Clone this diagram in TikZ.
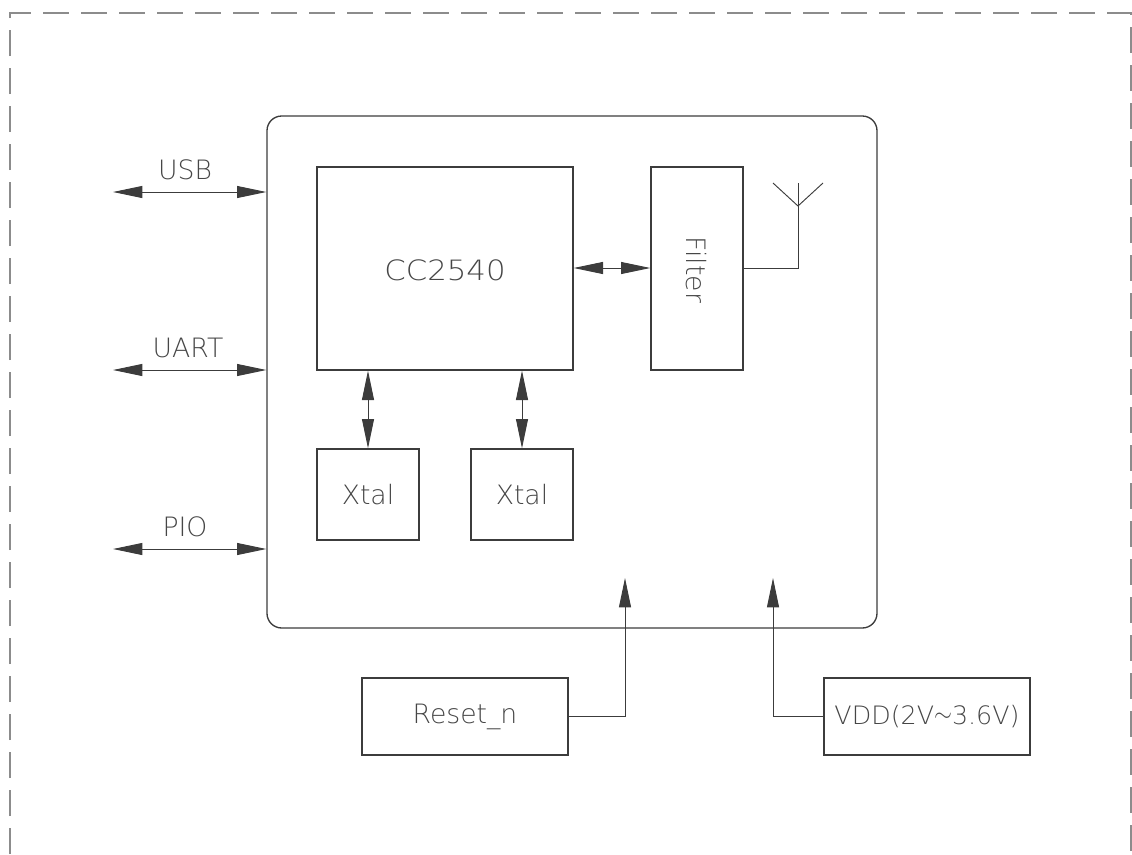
\documentclass[tikz,border=0pt]{standalone}
\usepackage{fontspec}
\setmainfont{DejaVu Sans ExtraLight}
\usetikzlibrary{arrows.meta}
\definecolor{linec}{RGB}{60,60,60}
\definecolor{textc}{RGB}{70,70,70}
\definecolor{framec}{RGB}{140,140,140}
\tikzset{
  txt/.style={font=\fontsize{20}{22}\selectfont, text=textc},
  blk/.style={draw=linec, line width=1pt, inner sep=0pt, txt},
  conn/.style={draw=linec, line width=0.7pt},
  bi/.style={conn, {Triangle[length=22pt,width=9pt]}-{Triangle[length=22pt,width=9pt]}},
  uni/.style={conn, -{Triangle[length=22pt,width=9pt]}},
  lbl/.style={txt, inner sep=0pt},
}
\begin{document}
\begin{tikzpicture}[x=0.75pt,y=-0.75pt]
\useasboundingbox (0,0) rectangle (1132,854);
% dashed frame
\draw[framec, line width=1.1pt, dash pattern=on 19.5pt off 9pt] (10,854) -- (10,13) -- (1131,13) -- (1131,854);
% outer module
\node[blk, rounded corners=11pt, minimum width=457.5pt, minimum height=384pt] (mod) at (572,372) {};
% CC2540
\node[blk, minimum width=192pt, minimum height=152.25pt] (cc) at (445,268.5) {};
\node[lbl, font=\fontsize{21}{23}\selectfont] (ccT) at (445,270) {\scalebox{1.1}[1]{CC2540}};
% Filter
\node[blk, minimum width=69pt, minimum height=152.25pt] (flt) at (697,268.5) {};
\node[lbl, rotate=-90] (fltT) at (696,270) {Filter};
% Xtals
\node[blk, minimum width=76.5pt, minimum height=68.25pt] (x1) at (368,494.5) {Xtal};
\node[blk, minimum width=76.5pt, minimum height=68.25pt] (x2) at (522,494.5) {Xtal};
% Reset / VDD
\node[blk, minimum width=154.5pt, minimum height=57.75pt] (rst) at (465,716.5) {Reset\_n};
\node[blk, minimum width=154.5pt, minimum height=57.75pt, font=\fontsize{19}{21}\selectfont] (vdd) at (927,716.5) {VDD(2V\raisebox{0.12em}{$\sim$}3.6V)};
% antenna
\coordinate (antb) at (798,268);
\coordinate (antt) at (798,206);
\coordinate (antl) at (773,183);
\coordinate (antr) at (823,183);
\coordinate (antv) at (798,183);
\draw[conn] (flt.east |- antb) -- (antb) -- (antv);
\draw[conn] (antl) -- (antt) -- (antr);
% CC <-> filter
\draw[bi] (cc.east |- 0,268) -- (flt.west |- 0,268);
% CC <-> xtal
\draw[bi] (cc.south -| x1.north) -- (x1.north);
\draw[bi] (cc.south -| x2.north) -- (x2.north);
% external interfaces
\coordinate (usbL) at (113,192);
\coordinate (uartL) at (113,370);
\coordinate (pioL) at (113,549);
\draw[bi] (usbL) -- (mod.west |- usbL);
\draw[bi] (uartL) -- (mod.west |- uartL);
\draw[bi] (pioL) -- (mod.west |- pioL);
\node[lbl] (usbT) at (185,170) {USB};
\node[lbl] (uartT) at (188,348) {UART};
\node[lbl] (pioT) at (185,527) {PIO};
% reset and power
\coordinate (rstTip) at (625,578);
\coordinate (vddTip) at (773,578);
\draw[uni] (rst.east) -- (rst.east -| rstTip) -- (rstTip);
\draw[uni] (vdd.west) -- (vdd.west -| vddTip) -- (vddTip);
\end{tikzpicture}
\end{document}
